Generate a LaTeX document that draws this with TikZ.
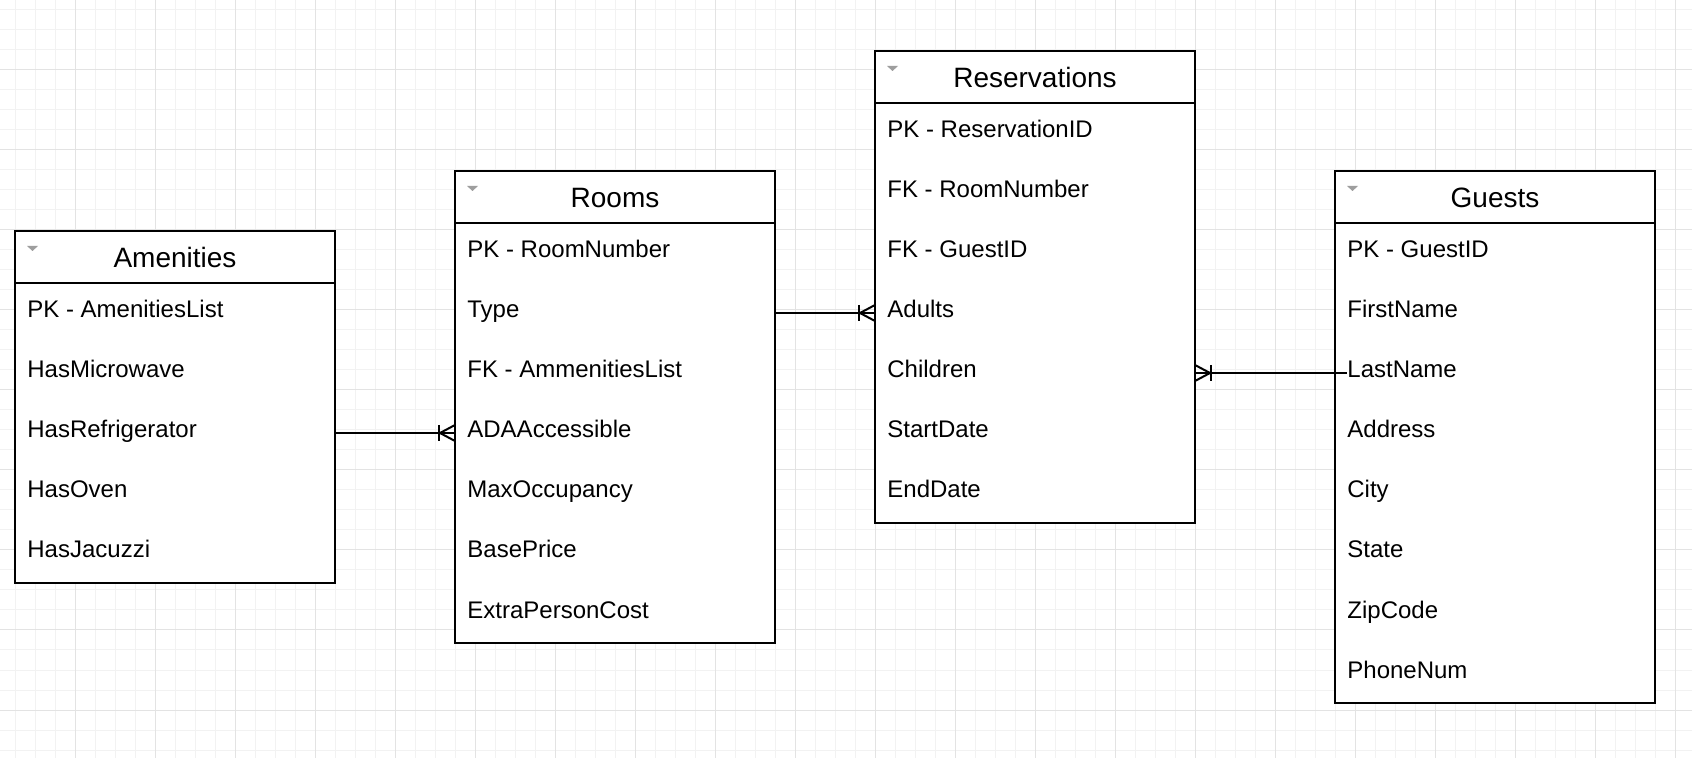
\documentclass[tikz,border=0pt]{standalone}
\usepackage{fontspec}
\setmainfont{Liberation Sans}
\newcommand\ertable[6]{% #1 name, #2 left, #3 top, #4 title, #5 rows, #6 fields
  \node[tbl, minimum height={26pt+30pt*#5}] (#1) at (#2,#3) {};
  \draw[sep] (#2,#3+52) -- (#2+320,#3+52);
  \fill[icon] (#2+12,#3+15) -- (#2+23,#3+15) -- (#2+17.5,#3+20) -- cycle;
  \node[ttl] (#1-t) at (#2+160,#3+37) {#4};
  \foreach \f [count=\i] in {#6} {
    \node[fld] (#1-\i) at (#2+12,#3+27+60*\i) {\f};
  }
}
\begin{document}
\begin{tikzpicture}[x=0.5pt,y=-0.5pt,
  tbl/.style={draw=black, line width=1pt, fill=white, anchor=north west,
    minimum width=160pt, inner sep=0pt, outer sep=0pt},
  ttl/.style={anchor=base, font=\fontsize{14}{16}\selectfont, inner sep=0pt},
  fld/.style={anchor=base west, font=\fontsize{12}{14}\selectfont, inner sep=0pt},
  sep/.style={line width=1pt},
  conn/.style={draw=black, line width=1pt},
  icon/.style={fill=black!38},
  gridminor/.style={draw=black!5, line width=0.5pt},
  gridmajor/.style={draw=black!11, line width=0.5pt},
  crowL/.pic={\draw[conn] (0,-8) -- (-15,0) -- (0,8); \draw[conn] (-16,-8) -- (-16,8);},
  crowR/.pic={\draw[conn] (0,-8) -- (15,0) -- (0,8); \draw[conn] (16,-8) -- (16,8);}]
\useasboundingbox (0,0) rectangle (1692,758);
\fill[white] (0,0) rectangle (1692,758);
% grid
\foreach \x in {15,35,...,1692} \draw[gridminor] (\x,0) -- (\x,758);
\foreach \y in {10,30,...,758} \draw[gridminor] (0,\y) -- (1692,\y);
\foreach \x in {75,155,...,1692} \draw[gridmajor] (\x,0) -- (\x,758);
\foreach \y in {70,150,...,758} \draw[gridmajor] (0,\y) -- (1692,\y);
% tables
\ertable{amen}{15}{231}{Amenities}{5}{PK - AmenitiesList,HasMicrowave,HasRefrigerator,HasOven,HasJacuzzi}
\ertable{rooms}{455}{171}{Rooms}{7}{PK - RoomNumber,Type,FK - AmmenitiesList,ADAAccessible,MaxOccupancy,BasePrice,ExtraPersonCost}
\ertable{resv}{875}{51}{Reservations}{7}{PK - ReservationID,FK - RoomNumber,FK - GuestID,Adults,Children,StartDate,EndDate}
\ertable{guests}{1335}{171}{Guests}{8}{PK - GuestID,FirstName,LastName,Address,City,State,ZipCode,PhoneNum}
% connectors
\coordinate (k1) at (0,433);
\coordinate (k2) at (0,313);
\coordinate (k3) at (0,373);
\draw[conn] (amen.east |- k1) -- (rooms.west |- k1);
\pic at (rooms.west |- k1) {crowL};
\draw[conn] (rooms.east |- k2) -- (resv.west |- k2);
\pic at (resv.west |- k2) {crowL};
\draw[conn] (resv.east |- k3) -- (guests-3.west |- k3);
\pic at (resv.east |- k3) {crowR};
\end{tikzpicture}
\end{document}
